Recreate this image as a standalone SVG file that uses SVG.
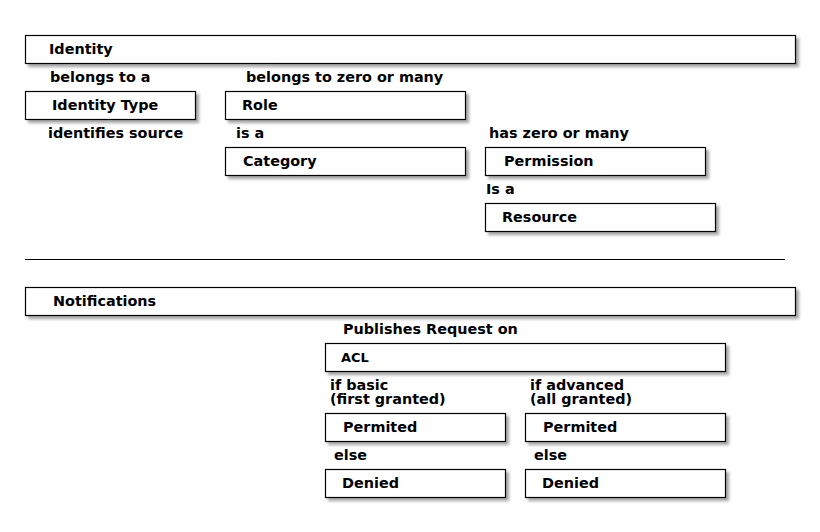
<svg xmlns="http://www.w3.org/2000/svg" width="820" height="532" viewBox="0 0 820 532">
<defs>
<filter id="sh" x="-5%" y="-30%" width="115%" height="180%">
<feDropShadow dx="3" dy="3" stdDeviation="1.5" flood-color="#000" flood-opacity="0.35"/>
</filter>
<style>
.box{fill:#fff;stroke:#000;stroke-width:1.2;filter:url(#sh)}
text{font-family:"DejaVu Sans","Liberation Sans",sans-serif;font-size:14.4px;font-weight:bold;fill:#000}
.sm{font-size:13px}
.sep{stroke:#000;stroke-width:1}
</style>
</defs>
<rect width="820" height="532" fill="#fff"/>
<g id="connectors">
<text x="50" y="82">belongs to a</text>
<text x="246" y="82">belongs to zero or many</text>
<text x="48" y="138">identifies source</text>
<text x="236" y="138">is a</text>
<text x="489" y="138">has zero or many</text>
<text x="486" y="194">Is a</text>
<text x="343" y="334">Publishes Request on</text>
<text x="330" y="390">if basic<tspan x="330" dy="14">(first granted)</tspan></text>
<text x="530" y="390">if advanced<tspan x="530" dy="14">(all granted)</tspan></text>
<text x="334" y="460">else</text>
<text x="534" y="460">else</text>
</g>
<g id="identity"><rect class="box" x="25.5" y="35.5" width="770" height="28"/><text x="49" y="54">Identity</text></g>
<g id="identity-type"><rect class="box" x="25.5" y="91.5" width="170" height="28"/><text x="52" y="110">Identity Type</text></g>
<g id="role"><rect class="box" x="225.5" y="91.5" width="240" height="28"/><text x="242" y="110">Role</text></g>
<g id="category"><rect class="box" x="225.5" y="147.5" width="240" height="28"/><text x="243" y="166">Category</text></g>
<g id="permission"><rect class="box" x="485.5" y="147.5" width="220" height="28"/><text x="504" y="166">Permission</text></g>
<g id="resource"><rect class="box" x="485.5" y="203.5" width="230" height="28"/><text x="502" y="222">Resource</text></g>
<g id="separator"><line class="sep" x1="25" y1="259.5" x2="785" y2="259.5"/></g>
<g id="notifications"><rect class="box" x="25.5" y="287.5" width="770" height="28"/><text x="53" y="306">Notifications</text></g>
<g id="acl"><rect class="box" x="325.5" y="343.5" width="400" height="28"/><text class="sm" x="341" y="362">ACL</text></g>
<g id="permited-basic"><rect class="box" x="325.5" y="413.5" width="180" height="28"/><text x="343" y="432">Permited</text></g>
<g id="permited-advanced"><rect class="box" x="525.5" y="413.5" width="200" height="28"/><text x="543" y="432">Permited</text></g>
<g id="denied-basic"><rect class="box" x="325.5" y="469.5" width="180" height="28"/><text x="342" y="488">Denied</text></g>
<g id="denied-advanced"><rect class="box" x="525.5" y="469.5" width="200" height="28"/><text x="542" y="488">Denied</text></g>
</svg>
